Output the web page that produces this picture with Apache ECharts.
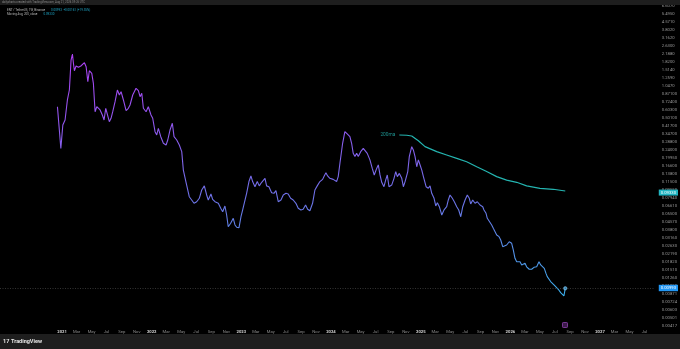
<!DOCTYPE html>
<html><head><meta charset="utf-8">
<script src="https://cdn.jsdelivr.net/npm/echarts@6/dist/echarts.min.js"></script>
<style>html,body{margin:0;padding:0;background:#000;}#c{width:680px;height:349px;}</style>
</head><body><div id="c"></div>
<script>
// ---- data (decimal years, prices) ----
const priceDates = [
2020.948,2020.986,2021.008,2021.033,2021.059,2021.081,2021.100,2021.115,2021.126,2021.137,
2021.156,2021.182,2021.209,2021.231,2021.249,2021.268,2021.287,2021.304,2021.331,2021.349,
2021.368,2021.387,2021.405,2021.424,2021.449,2021.468,2021.487,2021.505,2021.527,2021.546,
2021.565,2021.591,2021.617,2021.639,2021.658,2021.684,2021.714,2021.739,2021.758,2021.788,
2021.825,2021.851,2021.870,2021.889,2021.907,2021.937,2021.962,2021.992,2022.011,2022.037,
2022.056,2022.074,2022.101,2022.130,2022.160,2022.179,2022.204,2022.230,2022.249,2022.279,
2022.308,2022.335,2022.353,2022.383,2022.397,2022.419,2022.446,2022.472,2022.502,2022.531,
2022.558,2022.587,2022.613,2022.631,2022.661,2022.680,2022.706,2022.743,2022.770,2022.792,
2022.817,2022.836,2022.854,2022.881,2022.910,2022.929,2022.948,2022.974,2022.996,2023.015,
2023.033,2023.059,2023.085,2023.107,2023.126,2023.152,2023.178,2023.200,2023.227,2023.245,
2023.264,2023.282,2023.308,2023.338,2023.364,2023.386,2023.412,2023.442,2023.468,2023.498,
2023.523,2023.550,2023.579,2023.609,2023.635,2023.665,2023.690,2023.717,2023.740,2023.765,
2023.795,2023.821,2023.847,2023.877,2023.907,2023.925,2023.944,2023.963,2023.988,2024.025,
2024.063,2024.081,2024.100,2024.130,2024.155,2024.181,2024.211,2024.230,2024.248,2024.267,
2024.286,2024.304,2024.331,2024.360,2024.379,2024.404,2024.434,2024.460,2024.482,2024.509,
2024.527,2024.546,2024.565,2024.590,2024.609,2024.627,2024.646,2024.676,2024.702,2024.721,
2024.739,2024.761,2024.788,2024.806,2024.825,2024.855,2024.872,2024.899,2024.917,2024.936,
2024.955,2024.973,2024.992,2025.011,2025.029,2025.059,2025.084,2025.103,2025.122,2025.148,
2025.167,2025.185,2025.207,2025.234,2025.259,2025.289,2025.307,2025.326,2025.352,2025.374,
2025.401,2025.423,2025.446,2025.468,2025.494,2025.519,2025.541,2025.557,2025.579,2025.605,
2025.631,2025.661,2025.691,2025.705,2025.728,2025.742,2025.764,2025.791,2025.809,2025.828,
2025.847,2025.873,2025.892,2025.914,2025.932,2025.958,2025.987,2026.014,2026.032,2026.051,
2026.070,2026.088,2026.107,2026.126,2026.144,2026.163,2026.181,2026.210,2026.237,2026.263,
2026.293,2026.319,2026.338,2026.360,2026.378,2026.397,2026.411,2026.433,2026.449,2026.471,
2026.489,2026.508,2026.534,2026.561,2026.583,2026.597,2026.612
];
const priceValues = [
0.650,0.249,0.427,0.479,0.759,0.955,1.905,2.188,1.778,1.489,
1.660,1.611,1.660,1.698,1.790,1.633,1.156,1.489,1.403,1.114,
0.579,0.650,0.676,0.603,0.537,0.479,0.627,0.603,0.460,0.498,
0.579,0.729,0.955,0.851,0.918,0.759,0.593,0.627,0.676,0.851,
0.993,0.940,0.818,0.885,0.627,0.579,0.650,0.537,0.498,0.366,
0.339,0.395,0.326,0.280,0.269,0.302,0.380,0.444,0.326,0.302,
0.269,0.231,0.151,0.114,0.118,0.0818,0.0759,0.0703,0.0729,0.0789,
0.0955,0.105,0.0851,0.0759,0.0871,0.0771,0.0729,0.0703,0.0627,0.0579,
0.0661,0.0537,0.0410,0.0444,0.0498,0.0427,0.0405,0.0401,0.0516,0.0603,
0.0627,0.0885,0.116,0.132,0.116,0.103,0.116,0.105,0.114,0.113,
0.125,0.105,0.103,0.0898,0.0885,0.0940,0.0729,0.0759,0.0851,0.0885,
0.0871,0.0789,0.0759,0.0703,0.0627,0.0603,0.0612,0.0676,0.0612,0.0593,
0.0703,0.0955,0.105,0.116,0.122,0.132,0.142,0.132,0.125,0.122,
0.116,0.130,0.177,0.280,0.366,0.347,0.326,0.280,0.222,0.206,
0.222,0.206,0.231,0.249,0.259,0.222,0.191,0.157,0.135,0.157,
0.170,0.135,0.114,0.103,0.120,0.135,0.103,0.107,0.125,0.146,
0.130,0.140,0.125,0.103,0.116,0.146,0.206,0.259,0.240,0.206,
0.163,0.191,0.170,0.151,0.130,0.103,0.0993,0.105,0.0885,0.0789,
0.0661,0.0713,0.0650,0.0537,0.0603,0.0650,0.0759,0.0851,0.0789,0.0729,
0.0650,0.0603,0.0516,0.0650,0.0759,0.0851,0.0789,0.0692,0.0759,0.0703,
0.0729,0.0676,0.0650,0.0603,0.0558,0.0498,0.0479,0.0427,0.0395,0.0380,
0.0339,0.0326,0.0302,0.0259,0.0255,0.0269,0.0290,0.0280,0.0240,0.0198,
0.0183,0.0191,0.0183,0.0170,0.0163,0.0177,0.0163,0.0154,0.0154,0.0161,
0.0163,0.0183,0.0170,0.0177,0.0157,0.0140,0.0130,0.0125,0.0116,0.0118,
0.0107,0.0103,0.00971,0.00898,0.00871,0.00832,0.00993
];
const maDates = [2024.761,2024.843,2024.899,2024.973,2025.047,2025.178,2025.289,2025.401,2025.512,2025.624,2025.735,2025.847,2025.958,2026.070,2026.181,2026.330,2026.478,2026.612];
const maValues = [0.339,0.337,0.331,0.297,0.259,0.231,0.214,0.198,0.183,0.163,0.146,0.130,0.120,0.114,0.105,0.0993,0.0971,0.0933];
const xTickDates = [
'2021-01-01','2021-03-01','2021-05-01','2021-07-01','2021-09-01','2021-11-01',
'2022-01-01','2022-03-01','2022-05-01','2022-07-01','2022-09-01','2022-11-01',
'2023-01-01','2023-03-01','2023-05-01','2023-07-01','2023-09-01','2023-11-01',
'2024-01-01','2024-03-01','2024-05-01','2024-07-01','2024-09-01','2024-11-01',
'2025-01-01','2025-03-01','2025-05-01','2025-07-01','2025-09-01','2025-11-01',
'2026-01-01','2026-03-01','2026-05-01','2026-07-01','2026-09-01','2026-11-01',
'2027-01-01','2027-03-01','2027-05-01','2027-07-01'
];
const yTickValues = [6.607,5.495,4.571,3.802,3.162,2.630,2.188,1.820,1.514,1.259,1.047,0.871,0.724,0.603,0.501,0.417,0.347,0.288,0.240,0.1995,0.166,0.138,0.115,0.0955,0.0794,0.0661,0.0550,0.0457,0.0380,0.0316,0.0263,0.0219,0.0182,0.0151,0.0126,0.0105,0.00871,0.00724,0.00603,0.00501,0.00417];
const monthNames = ['Jan','Feb','Mar','Apr','May','Jun','Jul','Aug','Sep','Oct','Nov','Dec'];
const symbolText = 'ENT / TetherUS, 1W, Binance';
const maText = 'Moving Avg, 200, close';
const footerText = 'dailycharts created with TradingView.com, Aug 21, 2026 09:26 UTC';

// ---- helpers ----
function toTs(t){const y=Math.floor(t);const a=Date.UTC(y,0,1),b=Date.UTC(y+1,0,1);return a+(t-y)*(b-a);}
function isoToTs(s){const p=s.split('-');return Date.UTC(+p[0],+p[1]-1,+p[2]);}
const fmt = v => v >= 1 ? v.toFixed(4) : v.toFixed(5);

const priceData = priceDates.map((t,i)=>[toTs(t), priceValues[i]]);
const maData = maDates.map((t,i)=>[toTs(t), maValues[i]]);
const lastPrice = priceValues[priceValues.length-1];
const prevPrice = priceValues[priceValues.length-2];
const lastMA = maValues[maValues.length-1];
const chg = lastPrice - prevPrice;
const chgPct = chg/prevPrice*100;
const sg = chg>=0?'+':'\u2212';
const legend1 = '{a|' + symbolText + '}  {b|' + fmt(lastPrice) + '  ' + sg + Math.abs(chg).toFixed(5) + ' (' + sg + Math.abs(chgPct).toFixed(2) + '%)}';
const legend2 = '{a|' + maText + '}  {b|' + fmt(lastMA) + '}';

const yMin = 0.003981, yMax = 6.761;
const xMin = toTs(2020.3088), xMax = toTs(2027.611);
const FONT = 'Roboto, "Liberation Sans", sans-serif';
const MA_COLOR = '#24b4b0';
const CLEAR = 'rgba(0,0,0,0)';

const chart = echarts.init(document.getElementById('c'), null, {renderer:'canvas', width:680, height:349});
chart.setOption({
  backgroundColor:'#000',
  animation:false,
  textStyle:{fontFamily:FONT},
  grid:{left:0,right:25,top:5,bottom:21,containLabel:false},
  xAxis:{
    type:'value', min:xMin, max:xMax,
    axisLine:{show:false}, axisTick:{show:false}, splitLine:{show:false},
    axisLabel:{
      customValues: xTickDates.map(isoToTs),
      formatter: v => { const d=new Date(v); const m=d.getUTCMonth(); return m===0 ? '{y|'+d.getUTCFullYear()+'}' : monthNames[m]; },
      color:'#8c8c8c', fontSize:4.2, margin:2, fontFamily:FONT,
      rich:{y:{color:'#d0d0d0', fontSize:4.2, fontWeight:'bold', fontFamily:FONT}}
    }
  },
  yAxis:[
    {type:'log', logBase:10, min:yMin, max:yMax, position:'right', show:false, splitLine:{show:false}},
    {type:'value', min:Math.log10(yMin), max:Math.log10(yMax), position:'right',
     axisLine:{show:false}, axisTick:{show:false}, splitLine:{show:false},
     axisLabel:{customValues: yTickValues.map(v=>Math.log10(v)), formatter: v => fmt(Math.pow(10,v)),
       color:'#9a9a9a', fontSize:4.2, margin:7, align:'left', fontFamily:FONT}}
  ],
  series:[
    {
      type:'line', yAxisIndex:0, data:priceData, showSymbol:false, symbol:'none', z:3,
      lineStyle:{width:1.1, color:new echarts.graphic.LinearGradient(0,0,0,1,[
        {offset:0,color:'#ad3ff2'},{offset:0.35,color:'#8a5cec'},{offset:0.6,color:'#6c72e6'},
        {offset:0.85,color:'#4f95e6'},{offset:1,color:'#38b2ee'}])},
      markLine:{
        silent:true, symbol:['none','none'], animation:false,
        lineStyle:{color:'#555', type:[1,1.5], width:0.6},
        label:{position:'end', distance:4, formatter: fmt(lastPrice), backgroundColor:'#2196f3', color:'#fff',
          fontSize:4.2, padding:[1.2,2,1.2,2], fontFamily:FONT},
        data:[{yAxis:lastPrice}]
      }
    },
    {
      type:'line', yAxisIndex:0, data:maData, showSymbol:false, symbol:'none', z:3,
      lineStyle:{width:1.2, color:MA_COLOR},
      markLine:{
        silent:true, symbol:['none','none'], animation:false,
        lineStyle:{color:CLEAR, width:0.5, type:'solid'},
        label:{show:true, position:'end', distance:4, formatter: fmt(lastMA), backgroundColor:'#22b5c2', color:'#fff',
          fontSize:4.2, padding:[1,2,1,2], fontFamily:FONT},
        data:[{yAxis:lastMA}]
      }
    },
    {
      type:'scatter', yAxisIndex:0, data:[priceData[priceData.length-1]], symbolSize:3.5, z:4,
      itemStyle:{color:'#4db5f2', borderColor:'#a8dcff', borderWidth:0.5}
    },
    {
      type:'scatter', yAxisIndex:0, data:[maData[0]], symbolSize:2, z:4,
      itemStyle:{color:CLEAR},
      label:{show:true, position:'left', distance:3, formatter:'200ma', color:MA_COLOR, fontSize:4.8, fontFamily:FONT}
    }
  ],
  graphic:[
    {type:'rect', shape:{x:0,y:0,width:680,height:5}, style:{fill:'#1e1e1e'}, z:10},
    {type:'text', x:2, y:2.6, z:11, style:{text:footerText, fill:'#8a8a8a', fontSize:2.8, fontFamily:FONT, verticalAlign:'middle'}},
    {type:'text', x:7, y:10, z:11, style:{text:legend1, verticalAlign:'middle', fontFamily:FONT,
      rich:{a:{fill:'#b8b8b8', fontSize:3, fontFamily:FONT}, b:{fill:'#1ea7c8', fontSize:3, fontFamily:FONT}}}},
    {type:'text', x:7, y:14, z:11, style:{text:legend2, verticalAlign:'middle', fontFamily:FONT,
      rich:{a:{fill:'#b8b8b8', fontSize:3, fontFamily:FONT}, b:{fill:'#1ea7c8', fontSize:3, fontFamily:FONT}}}},
    {type:'rect', shape:{x:562.5,y:322.5,width:5,height:5,r:0.8}, style:{fill:'#3b1a4a', stroke:'#8e44ad', lineWidth:0.8}, z:10},
    {type:'rect', shape:{x:0,y:334,width:680,height:15}, style:{fill:'#1e1e1e'}, z:10},
    {type:'text', x:3, y:341.5, z:11, style:{text:'17', fill:'#e6e6e6', fontSize:5.5, fontWeight:'bold', fontFamily:FONT, verticalAlign:'middle'}},
    {type:'text', x:11, y:341.5, z:11, style:{text:'TradingView', fill:'#e6e6e6', fontSize:5.5, fontWeight:'bold', fontFamily:FONT, verticalAlign:'middle'}}
  ]
});
</script></body></html>
